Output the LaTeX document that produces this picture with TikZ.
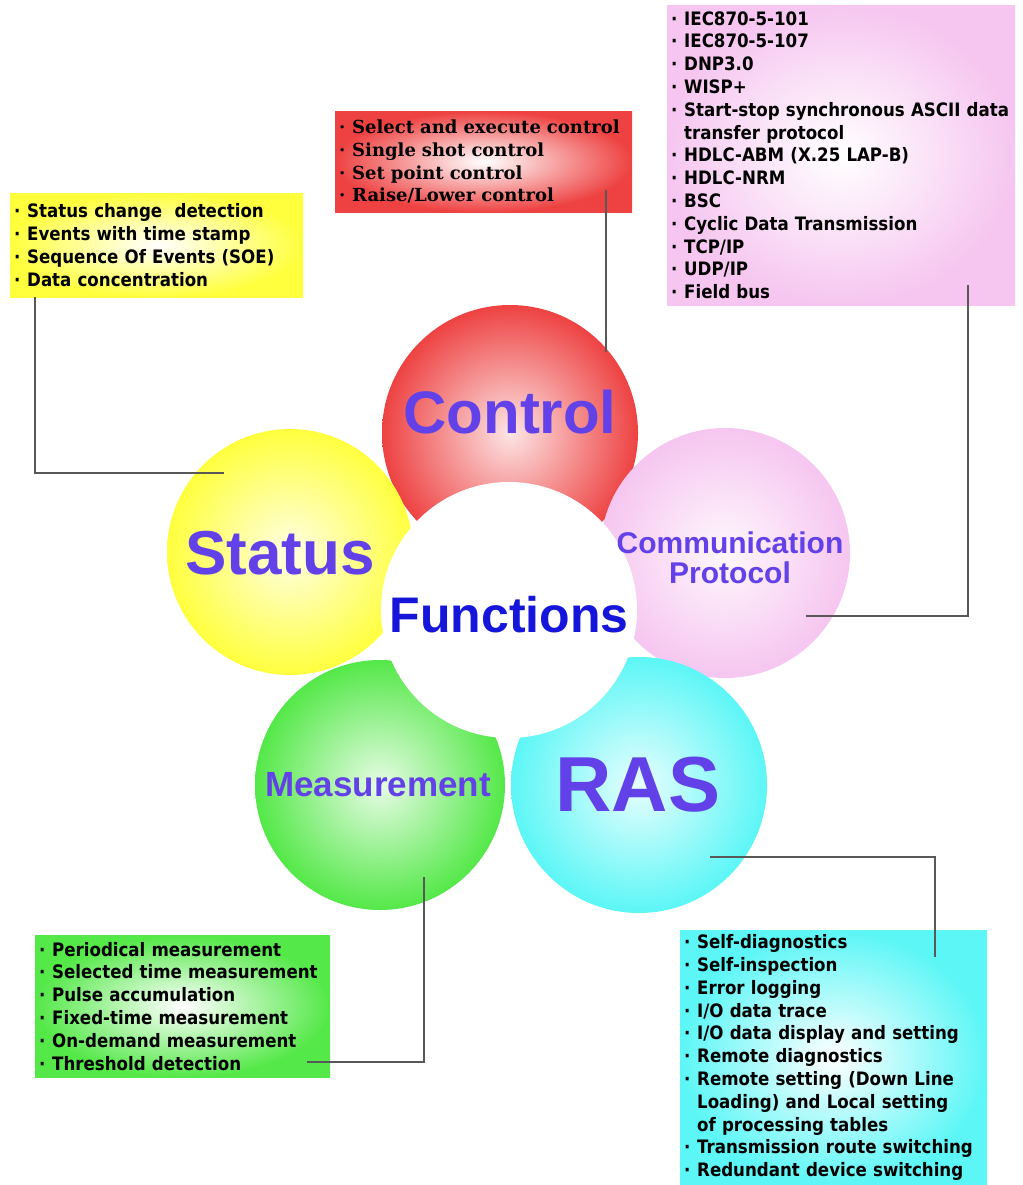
\documentclass[tikz,border=0pt]{standalone}
\usepackage{fontspec}
\setmainfont{DejaVu Sans}
\newfontfamily\listfont{DejaVu Sans Condensed}
\newfontfamily\titlefont{Liberation Sans}
\newfontfamily\serifbox{DejaVu Serif}

\definecolor{ctrlred}{RGB}{238,66,66}
\definecolor{statyellow}{RGB}{255,255,62}
\definecolor{compink}{RGB}{246,198,240}
\definecolor{measgreen}{RGB}{84,232,72}
\definecolor{rascyan}{RGB}{92,246,246}
\definecolor{titleviolet}{RGB}{98,66,232}
\definecolor{funcblue}{RGB}{22,22,218}
\definecolor{leadgray}{RGB}{88,88,88}

\newcommand\bul{\makebox[13pt][l]{·}}
\newcommand\hang{\hspace*{13pt}}

\tikzset{
  petal/.style={circle, inner sep=0pt, minimum size=252pt, inner color=#1!14, outer color=#1},
  title/.style={font=\titlefont\bfseries\fontsize{#1}{#1}\selectfont, text=titleviolet},
  listbox/.style={rectangle, anchor=north west, align=left, inner xsep=4pt, inner ysep=0pt,
    inner color=white, outer color=#1, font=\listfont\bfseries\fontsize{18.5}{22.8}\selectfont},
  lead/.style={draw=leadgray, line width=1.5pt}
}

\begin{document}
\begin{tikzpicture}[x=1pt, y=-1pt]
	\useasboundingbox (0,0) rectangle (1022,1185);

	% Boxes.
	\node[listbox=statyellow, text width=285pt, minimum height=104pt] (status_box) at (10,193)
		{\bul Status change \ detection\\ \bul Events with time stamp\\ \bul Sequence Of Events (SOE)\\ \bul Data concentration};
	\node[listbox=ctrlred, font=\serifbox\bfseries\fontsize{18}{22.8}\selectfont, text width=289pt, minimum height=101pt] (ctrl_box) at (335,111)
		{\bul Select and execute control\\ \bul Single shot control\\ \bul Set point control\\ \bul Raise/Lower control};
	\node[listbox=compink, text width=340pt, minimum height=300pt] (comm_box) at (667,5)
		{\bul IEC870-5-101\\ \bul IEC870-5-107\\ \bul DNP3.0\\ \bul WISP+\\ \bul Start-stop synchronous ASCII data\\ \hang transfer protocol\\ \bul HDLC-ABM (X.25 LAP-B)\\ \bul HDLC-NRM\\ \bul BSC\\ \bul Cyclic Data Transmission\\ \bul TCP/IP\\ \bul UDP/IP\\ \bul Field bus};
	\node[listbox=measgreen, text width=287pt, minimum height=142pt] (meas_box) at (35,935)
		{\bul Periodical measurement\\ \bul Selected time measurement\\ \bul Pulse accumulation\\ \bul Fixed-time measurement\\ \bul On-demand measurement\\ \bul Threshold detection};
	\node[listbox=rascyan, text width=299pt, minimum height=255pt] (ras_box) at (680,930)
		{\bul Self-diagnostics\\ \bul Self-inspection\\ \bul Error logging\\ \bul I/O data trace\\ \bul I/O data display and setting\\ \bul Remote diagnostics\\ \bul Remote setting (Down Line\\ \hang Loading) and Local setting\\ \hang of processing tables\\ \bul Transmission route switching\\ \bul Redundant device switching};

	% Petals.
	\node[petal=ctrlred, minimum size=256pt]    (ctrl) at (510,433) {};
	\node[petal=statyellow, minimum size=246pt] (status) at (290,552) {};
	\node[petal=compink, minimum size=250pt]    (comm) at (725,553) {};
	\node[petal=measgreen, minimum size=250pt]  (meas) at (380,785) {};
	\node[petal=rascyan, minimum size=256pt]    (ras) at (639,785) {};
	\node[circle, fill=white, minimum size=256pt] (center) at (509,610) {};

	% Titles.
	\node[title=60]                  (ctrl_t) at (510,412) {Control};
	\node[title=62]                (status_t) at (280,553) {Status};
	\node[title=30, align=center]    (comm_t) at (730,558) {Communication\\Protocol};
	\node[title=50, text=funcblue]   (func_t) at (509,615) {Functions};
	\node[title=35]                  (meas_t) at (378,785) {Measurement};
	\node[title=78]                   (ras_t) at (638,785) {RAS};

	% Leaders.
	\coordinate (status_top) at (35,297);
	\coordinate (status_end) at (224,473);
	\coordinate   (ctrl_top) at (606,190);
	\coordinate   (ctrl_end) at (606,352);
	\coordinate   (comm_top) at (968,285);
	\coordinate   (comm_end) at (806,616);
	\coordinate    (ras_end) at (710,857);
	\coordinate    (ras_top) at (935,957);
	\coordinate   (meas_end) at (424,877);
	\coordinate   (meas_top) at (307,1062);
	\draw[lead] (status_top) |- (status_end);
	\draw[lead]   (ctrl_top) -- (ctrl_end);
	\draw[lead]   (comm_top) |- (comm_end);
	\draw[lead]    (ras_end) -| (ras_top);
	\draw[lead]   (meas_end) |- (meas_top);

\end{tikzpicture}
\end{document}
